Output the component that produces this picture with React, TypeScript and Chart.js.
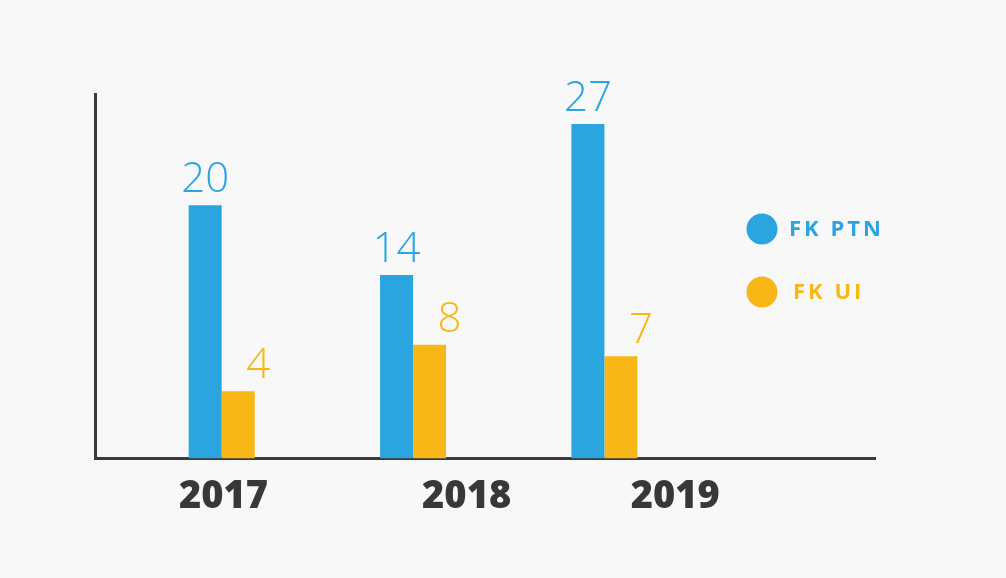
import React, { useEffect, useRef } from "react";
import { Chart, registerables } from "chart.js";

Chart.register(...registerables);

const categories = ["2017", "2018", "2019"];
const seriesNames = ["FK PTN", "FK UI"];
const ptnValues = [20, 14, 27];
const uiValues = [4, 8, 7];

const BLUE = "#2aa5e0";
const YELLOW = "#f8b716";
const DARK = "#3a3a3a";
const BG = "#f7f8f7";

// layout constants (styles, not data)
const yearShift = [0.01, 0.28, 0.37];
const labelDx = [0, 20];
const X_MIN = -0.662;
const X_MAX = 3.414;
const Y_MIN = -1.79;
const Y_MAX = 29.58;

const valueLabels = {
  id: "valueLabels",
  afterDatasetsDraw(chart: any) {
    const ctx = chart.ctx;
    ctx.save();
    ctx.font = '300 42px "Open Sans"';
    ctx.textAlign = "center";
    ctx.textBaseline = "alphabetic";
    chart.data.datasets.forEach((ds: any, di: number) => {
      const meta = chart.getDatasetMeta(di);
      ctx.fillStyle = ds.backgroundColor;
      meta.data.forEach((el: any, i: number) => {
        const v = ds.data[i].y;
        ctx.fillText(String(v), el.x + labelDx[di], el.y - 13);
      });
    });
    ctx.restore();
  },
};

const sideLegend = {
  id: "sideLegend",
  afterDraw(chart: any) {
    const ctx = chart.ctx;
    ctx.save();
    const cx = 762;
    const rows = [229, 292];
    const textX = [789, 793];
    chart.data.datasets.forEach((ds: any, di: number) => {
      const y = rows[di];
      ctx.fillStyle = ds.backgroundColor;
      ctx.beginPath();
      ctx.arc(cx, y, 15.5, 0, Math.PI * 2);
      ctx.fill();
      ctx.font = 'bold 22px "Open Sans"';
      (ctx as any).letterSpacing = "3px";
      ctx.textAlign = "left";
      ctx.textBaseline = "middle";
      ctx.fillText(ds.label, textX[di], y + 1);
    });
    ctx.restore();
  },
};

export default function App() {
  const ref = useRef<HTMLCanvasElement | null>(null);

  useEffect(() => {
    if (!ref.current) return;
    const chart = new Chart(ref.current, {
      type: "bar",
      data: {
        datasets: [
          {
            label: seriesNames[0],
            data: categories.map((_, i) => ({ x: i, y: ptnValues[i] })),
            backgroundColor: BLUE,
            base: Y_MIN,
          } as any,
          {
            label: seriesNames[1],
            data: categories.map((_, i) => ({ x: i, y: uiValues[i] })),
            backgroundColor: YELLOW,
            base: Y_MIN,
          } as any,
        ],
      },
      options: {
        animation: false,
        responsive: true,
        maintainAspectRatio: false,
        datasets: { bar: { categoryPercentage: 0.345, barPercentage: 1 } },
        layout: { padding: { left: 95, right: 131, top: 94, bottom: 42 } },
        plugins: { legend: { display: false }, tooltip: { enabled: false } },
        scales: {
          x: {
            type: "linear",
            offset: false,
            min: X_MIN,
            max: X_MAX,
            grid: { display: false, drawTicks: false, offset: false },
            border: { display: true, color: DARK, width: 3 },
            afterBuildTicks(scale: any) {
              scale.ticks = categories.map((_, i) => ({ value: i + yearShift[i] }));
            },
            ticks: {
              autoSkip: false,
              maxRotation: 0,
              padding: 16,
              color: "#383838",
              font: { family: "Open Sans", size: 38, weight: 800 },
              callback: (_v: any, index: number) => categories[index],
            },
          },
          y: {
            min: Y_MIN,
            max: Y_MAX,
            grid: { display: false, drawTicks: false },
            border: { display: true, color: DARK, width: 3 },
            ticks: { display: false },
          },
        },
      },
      plugins: [valueLabels, sideLegend],
    });
    return () => chart.destroy();
  }, []);

  return (
    <div style={{ position: "absolute", left: 0, top: 0, width: 1006, height: 578, background: BG }}>
      <canvas ref={ref} />
    </div>
  );
}
